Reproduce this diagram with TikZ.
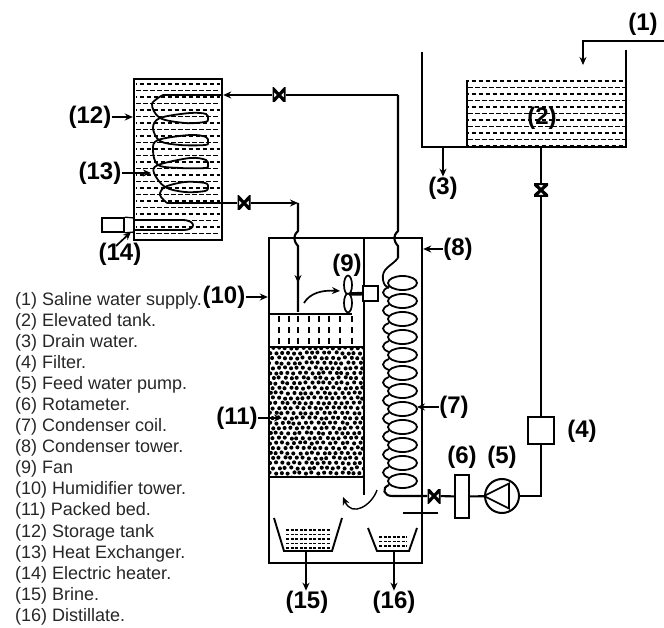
\documentclass[tikz,border=0pt]{standalone}
\usepackage{fontspec}
\setmainfont{Liberation Sans}
\usetikzlibrary{arrows.meta, calc}

\begin{document}
\begin{tikzpicture}[
    x=1pt, y=-1pt,
    pipe/.style={line width=2.1pt},
    wall/.style={line width=2.4pt},
    thinwall/.style={line width=1.4pt},
    coilline/.style={line width=1.8pt},
    arrow/.style={-{Stealth[length=8pt,width=7pt]}, line width=1.7pt},
    waterdash/.style={line width=1.4pt},
    tag/.style={font=\fontsize{24}{26}\selectfont\bfseries, inner sep=0pt},
    box/.style={rectangle, draw, fill=white, inner sep=0pt},
    valveh/.style={rectangle, fill=white, inner sep=0pt, minimum width=13pt, minimum height=14pt, path picture={
        \draw[line width=3.2pt] (path picture bounding box.north west) -- (path picture bounding box.south east)
        -- (path picture bounding box.north east) -- (path picture bounding box.south west) -- cycle;}},
    valvev/.style={rectangle, fill=white, inner sep=0pt, minimum width=14pt, minimum height=13pt, path picture={
        \draw[line width=3.2pt] (path picture bounding box.north west) -- (path picture bounding box.north east)
        -- (path picture bounding box.south west) -- (path picture bounding box.south east) -- cycle;}}
]
\useasboundingbox (0,0) rectangle (664,628);

% Elevated tank
\foreach \hy [count=\hi] in {81,87.5,...,146} {
  \pgfmathsetmacro\hph{mod(\hi,2)*3.5}
  \draw[waterdash, dash pattern=on 4.5pt off 2.5pt, dash phase=\hph pt] (468,\hy) -- (625,\hy);
}
\coordinate (tankleft) at (422,52);
\coordinate (tankright) at (626,50);
\coordinate (tankbase) at (541,147);
\draw[thinwall] (tankleft) -- (422,147) -- (626,147) -- (tankright);
\draw[thinwall] (467,80) -- (467,147);
\node[tag] (lab1) at (643,24) {(1)};
\node[tag] (lab2) at (542,118) {(2)};
\node[tag] (lab3) at (443,188) {(3)};
\coordinate (supply) at (664,41);
\coordinate (supplyend) at (583,65);
\draw[arrow, line width=1.3pt] (supply) -| (supplyend);
\coordinate (drain) at (443,147);
\draw[arrow, line width=1.3pt] (drain) -- (lab3.north);

% Feed line
\node[valvev] (valvefeed) at (541,190) {};
\node[box, line width=1.2pt, minimum width=26pt, minimum height=27pt] (filter) at (541,430.5) {};
\node[circle, draw, line width=2pt, fill=white, inner sep=0pt, minimum size=34pt] (pump) at (502,496) {};
\node[box, line width=2pt, minimum width=14pt, minimum height=43pt] (rotameter) at (462,496.5) {};
\node[valveh] (valvecoil) at (434,496) {};
\draw[pipe] (tankbase) -- (valvefeed);
\draw[pipe] (valvefeed) -- (filter);
\draw[pipe] (filter) |- (pump);
\draw[pipe] (pump) -- (rotameter);
\draw[pipe] (rotameter) -- (valvecoil);
\draw[line width=1.7pt] (pump.west) -- (509,483.5) -- (509,508.5) -- cycle;
\node[tag] (lab4) at (582,431) {(4)};
\node[tag] (lab5) at (502,457) {(5)};
\node[tag] (lab6) at (462,457) {(6)};

% Storage tank
\foreach \hy [count=\hi] in {84,90.5,...,238} {
  \pgfmathsetmacro\hph{mod(\hi,2)*3.5}
  \draw[waterdash, dash pattern=on 4.5pt off 2.5pt, dash phase=\hph pt] (136,\hy) -- (220,\hy);
}
\node[rectangle, draw, wall, inner sep=0pt, minimum width=88pt, minimum height=161pt] (storage) at (178,159.5) {};
\draw[pipe] (222,203) -- (167,203);
\draw[coilline] plot[smooth, tension=0.55] coordinates {(167,203) (160,195) (165,187) (185,182) (205,183) (208,187) (205,191) (185,192) (165,187)
  (154,173) (158,165) (190,158) (206,160) (208,165) (205,168) (180,168) (158,165)
  (153,150) (158,140) (190,135) (206,137) (208,142) (205,145) (180,145) (160,141)
  (153,128) (160,118) (190,113) (206,114) (208,119) (205,122) (185,123) (160,118)
  (152,104) (163,95)};
\draw[pipe] (163,95) -- (222,95);

% Heater
\node[box, line width=1.7pt, minimum width=22pt, minimum height=14pt] (heater) at (113,225) {};
\draw[line width=1.3pt] (heater.north east) -- (134,218) (heater.south east) -- (134,232);
\draw[coilline] (134,220) -- (182,220) .. controls (190,220) and (193,223) .. (193,225) .. controls (193,228) and (190,230) .. (182,230) -- (134,230);

\node[tag] (lab12) at (90,117) {(12)};
\node[tag] (lab13) at (100,173) {(13)};
\node[tag] (lab14) at (120,254) {(14)};
\draw[arrow] (lab12.east) -- (storage.west |- lab12.east);
\draw[arrow] (lab13.east) -- (151,173);
\draw[arrow] (116,246) -- (131,232);

% Towers
\node[rectangle, draw, wall, inner sep=0pt, minimum width=153pt, minimum height=325pt] (tower) at (345.5,400.5) {};
\coordinate (walltop) at (364,238);
\coordinate (wallend) at (364,495);
\draw[line width=1.9pt] (walltop) -- (wallend);

% Packed bed
\begin{scope}
\clip (270,347) rectangle (364,477);
\pgfmathsetseed{11}
\foreach \by [count=\br] in {348,353,...,478} {
  \pgfmathsetmacro\bs{mod(\br,2)*3}
  \foreach \bx in {270,276,...,364} {
    \fill (\bx+\bs+rand*0.9,\by+rand*0.7) circle (2.05);
  }
}
\end{scope}
\draw[wall] (269,347) -- (364,347);
\draw[wall] (269,477) -- (364,477);

% Distributor
\draw[line width=1.7pt] (269,314) -- (352,314);
\foreach \dx in {279,289,298,309,319,329,340,352} {
  \draw[line width=1.4pt] (\dx,316) -- (\dx,322);
  \draw[line width=1.4pt] (\dx,327) -- (\dx,333);
  \draw[line width=1.4pt] (\dx,338) -- (\dx,344);
}

% Top connections
\node[valveh] (valvetop) at (279,95) {};
\node[valveh] (valvelow) at (244,203) {};
\coordinate (hotline) at (398,95);
\coordinate (lowline) at (298,203);
\draw[pipe] (hotline) -- (valvetop);
\draw[arrow, line width=2.1pt] (valvetop) -- (storage.east |- valvetop);
\draw[pipe] (storage.east |- valvelow) -- (valvelow);
\draw[arrow, line width=2.1pt] (valvelow) -- (lowline);
\draw[pipe] (lowline) -- (298,231) .. controls (293,236) and (293,240) .. (298,246) -- (298,312);
\draw[arrow, line width=2.1pt] (298,260) -- (298,283);
\draw[pipe] (hotline) -- (398,231) .. controls (393,236) and (393,240) .. (398,246) -- (398,258);

% Condenser coil
\draw[coilline] (398,258) .. controls (392,266) and (381,268) .. (383,280) .. controls (384,285) and (386,287) .. (389,288);
\foreach \cy in {283,301,319,337,355,373,391,409,427,445,463,481} {
  \draw[coilline] (402.5,\cy) ellipse (14.5 and 7);
}
\foreach \cy in {283,301,319,337,355,373,391,409,427,445,463} {
  \draw[coilline] (389,\cy+4) .. controls (381,\cy+7) and (381,\cy+12) .. (389,\cy+15);
}
\draw[pipe] (389,485) .. controls (381,488) and (384,496) .. (392,496) -- (valvecoil);

% Fan
\node[box, line width=1.9pt, minimum width=15pt, minimum height=15pt] (motor) at (370.5,293.5) {};
\draw[line width=3.6pt] (348,294) -- (motor);
\draw[line width=1.7pt, fill=white] (348,285) ellipse (4 and 9.5);
\draw[line width=1.7pt, fill=white] (348,303) ellipse (4 and 9.5);
\draw[arrow] (304,303) .. controls (310,293) and (322,290) .. (340,291);
\node[tag] (lab9) at (347,265) {(9)};
\node[tag] (lab8) at (458,249) {(8)};
\node[tag] (lab7) at (454,407) {(7)};
\node[tag] (lab10) at (224,297) {(10)};
\node[tag] (lab11) at (237,418) {(11)};
\draw[arrow] (lab8.west) -- (tower.east |- lab8.west);
\draw[arrow] (lab7.west) -- (417,407);
\draw[arrow] (lab10.east) -- (tower.west |- lab10.east);
\draw[arrow] (lab11.east) -- (282,418);

% Trays
\foreach \ty in {530,534.5,...,549} {
  \draw[line width=1.1pt, dash pattern=on 3pt off 1.5pt] (286,\ty) -- (330,\ty);
}
\foreach \ty in {537,541.5,...,549} {
  \draw[line width=1.1pt, dash pattern=on 3pt off 1.5pt] (379,\ty) -- (407,\ty);
}
\draw[line width=1.9pt] (274,518) -- (284,551) -- (332,551) -- (342,518);
\draw[line width=1.9pt] (368,528) -- (377,551) -- (409,551) -- (417,528);
\node[tag] (lab15) at (307,602) {(15)};
\node[tag] (lab16) at (394,602) {(16)};
\draw[arrow] (306,551) -- (lab15.north -| 306,551);
\draw[arrow] (394,551) -- (lab16.north);
\draw[line width=1.8pt] (403,513) -- (438,513);
\draw[arrow, line width=1.4pt] (377,490) .. controls (372,505) and (352,518) .. (343,497);

% Legend
\node[anchor=north west, align=left, inner sep=0pt, font=\fontsize{18}{21.07}\selectfont, text=black!85] (legendtxt) at (15,292) {(1) Saline water supply.\\
(2) Elevated tank.\\
(3) Drain water.\\
(4) Filter.\\
(5) Feed water pump.\\
(6) Rotameter.\\
(7) Condenser coil.\\
(8) Condenser tower.\\
(9) Fan\\
(10) Humidifier tower.\\
(11) Packed bed.\\
(12) Storage tank\\
(13) Heat Exchanger.\\
(14) Electric heater.\\
(15) Brine.\\
(16) Distillate.};

\end{tikzpicture}
\end{document}
